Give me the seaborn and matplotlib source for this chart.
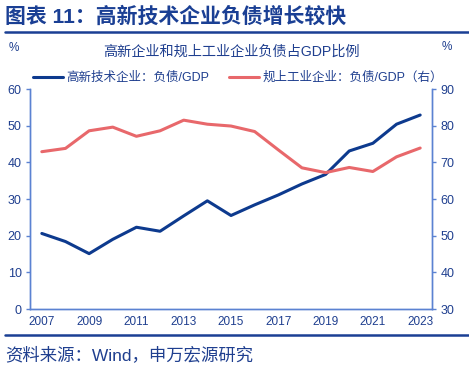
import numpy as np
import pandas as pd
import matplotlib
matplotlib.use("Agg")
import matplotlib.pyplot as plt
import seaborn as sns

# data
years = list(range(2007, 2024))
hitech_debt_gdp = [20.6, 18.4, 15.1, 19.0, 22.3, 21.2, 25.4, 29.5, 25.5,
                   28.4, 31.1, 34.1, 36.7, 43.1, 45.2, 50.4, 52.9]
industry_debt_gdp = [72.9, 73.8, 78.6, 79.6, 77.1, 78.6, 81.5, 80.4, 79.9,
                     78.4, 73.4, 68.5, 67.2, 68.6, 67.5, 71.5, 73.9]
label_hitech = "高新技术企业：负债/GDP"
label_industry = "规上工业企业：负债/GDP（右）"

sns.set_style("white")
plt.rcParams['font.family'] = ['Liberation Sans', 'Noto Sans CJK SC', 'DejaVu Sans']

navy = "#0d3a8e"
red = "#e8686b"
axis_col = "#5b82d2"
text_col = "#1f3f8f"

df = pd.DataFrame({"idx": np.arange(len(years)),
                   "hitech": hitech_debt_gdp,
                   "industry": industry_debt_gdp})

fig = plt.figure(figsize=(4.69, 3.68), dpi=100)
ax = fig.add_axes([30 / 469, 1 - 309 / 368, 402 / 469, 220 / 368])
ax2 = ax.twinx()

sns.lineplot(data=df, x="idx", y="hitech", ax=ax, color=navy, linewidth=2.2,
             label=label_hitech, legend=False)
sns.lineplot(data=df, x="idx", y="industry", ax=ax2, color=red, linewidth=2.2,
             label=label_industry, legend=False)

n = len(years)
for a in (ax, ax2):
    a.set_xlim(-0.5, n - 0.5)
    a.set_xlabel("")
    a.set_ylabel("")
    a.grid(False)
    a.spines['top'].set_visible(False)
    for s in ('left', 'right', 'bottom'):
        a.spines[s].set_color(axis_col)
        a.spines[s].set_linewidth(1.0)

ax.set_ylim(0, 60)
ax.set_yticks(range(0, 61, 10))
ax2.set_ylim(30, 90)
ax2.set_yticks(range(30, 91, 10))

# category labels at centres, tick marks at boundaries every two years
ax.set_xticks(np.arange(0, n, 2))
ax.set_xticklabels([str(y) for y in years[::2]])
ax.set_xticks(np.arange(-0.5, n - 1, 2), minor=True)
ax.tick_params(axis='x', which='major', length=0, pad=5, labelsize=8.5, labelcolor=text_col)
ax.tick_params(axis='x', which='minor', length=3.5, width=1, color=axis_col, direction='out')
ax.tick_params(axis='y', length=3, width=1, color=axis_col, labelsize=9, labelcolor=text_col, pad=3)
ax2.tick_params(axis='y', length=3, width=1, color=axis_col, labelsize=9, labelcolor=text_col, pad=3)

h1, l1 = ax.get_legend_handles_labels()
h2, l2 = ax2.get_legend_handles_labels()
fig.legend(h1 + h2, l1 + l2, loc='center', bbox_to_anchor=(238 / 469, 1 - 78 / 368),
           ncol=2, frameon=False, fontsize=9, handlelength=2.4, handletextpad=0.3,
           columnspacing=1.6, labelcolor=text_col)

# header, subtitle, units, source
fig.text(5 / 469, 1 - 17 / 368, "图表 11：高新技术企业负债增长较快", fontsize=15,
         fontweight='bold', color="#1a3f94", va='center', ha='left')
fig.add_artist(plt.Line2D([5 / 469, 1], [1 - 32 / 368] * 2, color="#1a3f94", linewidth=1.8))
fig.text(231 / 469, 1 - 52 / 368, "高新企业和规上工业企业负债占GDP比例", fontsize=10.2,
         color=text_col, ha='center', va='center')
fig.text(14 / 469, 1 - 48 / 368, "%", fontsize=8.5, color=text_col, ha='center', va='center')
fig.text(447 / 469, 1 - 47 / 368, "%", fontsize=8.5, color=text_col, ha='center', va='center')
fig.add_artist(plt.Line2D([5 / 469, 1], [1 - 335 / 368] * 2, color="#1a3f94", linewidth=1.8))
fig.text(5 / 469, 1 - 355 / 368, "资料来源：Wind，申万宏源研究", fontsize=12.5,
         color=text_col, ha='left', va='center')

fig.savefig("out.png", dpi=100)
